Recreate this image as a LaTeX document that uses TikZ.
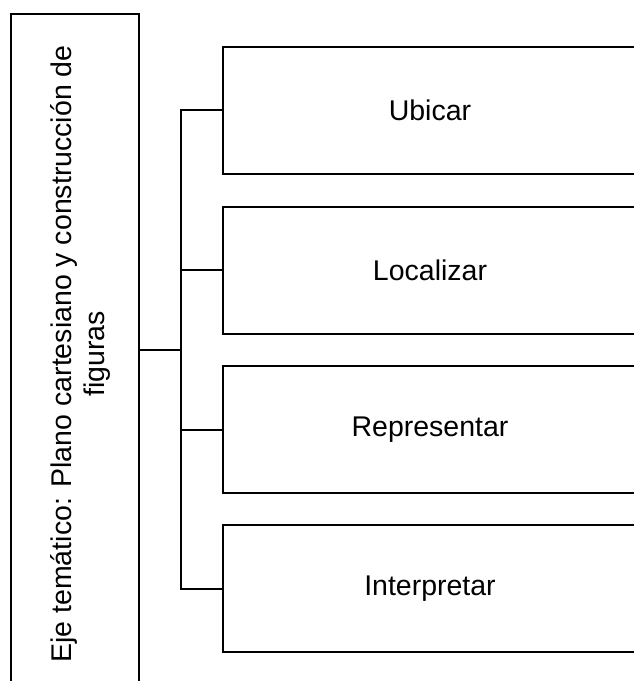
\documentclass[tikz,border=0pt]{standalone}
\usepackage{fontspec}
\setmainfont{Liberation Sans}
\begin{document}
\begin{tikzpicture}[x=1pt,y=-1pt,
  boxstyle/.style={draw=black, line width=2pt, minimum width=414pt, minimum height=127pt, inner sep=0pt, font=\fontsize{28.5}{33}\selectfont},
  linkstyle/.style={draw=black, line width=2pt}]
\useasboundingbox (0,0) rectangle (634,681);
\clip (0,0) rectangle (634,681);
\node[draw=black, line width=2pt, minimum width=128pt, minimum height=672pt, inner sep=0pt] (eje) at (75,350) {};
\node[rotate=90, align=center, font=\fontsize{28.5}{33}\selectfont] (ejetext) at (80,354) {Eje temático: Plano cartesiano y construcción de\\figuras};
\node[boxstyle] (b1) at (430,110) {Ubicar};
\node[boxstyle] (b2) at (430,270) {Localizar};
\node[boxstyle] (b3) at (430,429.5) {Representar};
\node[boxstyle] (b4) at (430,588.5) {Interpretar};
\coordinate (bus) at (181,350);
\draw[linkstyle] (eje.east) -- (bus);
\draw[linkstyle] (b1.west) -- (b1.west -| bus) -- (b4.west -| bus) -- (b4.west);
\draw[linkstyle] (b2.west) -- (b2.west -| bus);
\draw[linkstyle] (b3.west) -- (b3.west -| bus);
\end{tikzpicture}
\end{document}
